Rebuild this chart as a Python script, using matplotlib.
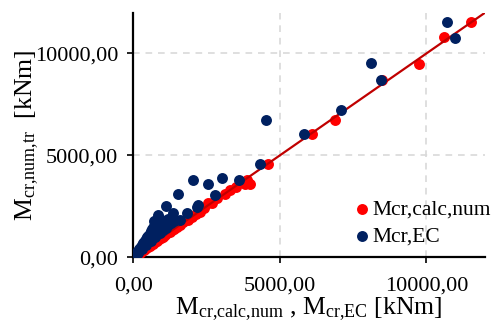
import matplotlib
matplotlib.use("Agg")
import matplotlib.pyplot as plt
from matplotlib.ticker import FuncFormatter, MultipleLocator

plt.rcParams['font.family'] = ['Liberation Serif', 'DejaVu Serif']
plt.rcParams['mathtext.fontset'] = 'custom'
plt.rcParams['mathtext.rm'] = 'Liberation Serif'
plt.rcParams['mathtext.it'] = 'Liberation Serif:italic'

# Mcr,calc,num  (x, y) in kNm
calc_x = [20, 50, 80, 110, 150, 190, 230, 270, 310, 350, 400, 450, 500, 560, 620,
          680, 740, 800, 870, 940, 1010, 1080, 1160, 1240, 1320, 1400, 1500, 1600,
          1705, 1850, 1991, 2150, 2274, 2420, 2557, 2700, 2843, 3126, 3300, 3500,
          3797, 3866, 3978, 4602, 6082, 6876, 8480, 9740, 10592, 11536]
calc_y = [20, 45, 85, 105, 150, 185, 235, 265, 320, 345, 410, 440, 510, 550, 630,
          670, 750, 790, 880, 930, 1020, 1070, 1170, 1230, 1330, 1390, 1510, 1590,
          1741, 1830, 1985, 2140, 2230, 2400, 2640, 2680, 2885, 3095, 3280, 3460,
          3618, 3814, 3619, 4597, 6029, 6748, 8700, 9487, 10787, 11521]

# Mcr,EC  (x, y) in kNm
ec_x = [20, 40, 60, 80, 100, 120, 140, 160, 180, 200, 220, 240, 260, 280, 300, 320,
        340, 360, 380, 400, 420, 440, 460, 480, 500, 530, 560, 590, 620, 650, 680,
        720, 760, 800, 150, 300, 450, 600, 750, 900, 1000, 1100, 1200, 1300, 1400,
        700, 900, 1000, 1200, 784, 842, 1105, 1364, 1524, 1592, 1841, 2045, 2161,
        2216, 2547, 2785, 3013, 3614, 4319, 4514, 5830, 7070, 8127, 8444, 10718, 10967]
ec_y = [40, 70, 110, 150, 190, 230, 270, 310, 350, 390, 430, 470, 510, 560, 600, 640,
        680, 720, 770, 810, 850, 900, 940, 990, 1030, 1100, 1160, 1230, 1300, 1370, 1440,
        1520, 1600, 1700, 220, 420, 620, 820, 1000, 1200, 1350, 1450, 1600, 1700, 1800,
        1800, 1900, 1700, 1900, 1824, 2068, 2509, 2152, 3095, 1824, 2152, 3814, 2445,
        2557, 3584, 3046, 3912, 3814, 4597, 6748, 6029, 7203, 9516, 8719, 11521, 10758]

trend_x = [0, 12100]
trend_y = [0, 12100]

fig = plt.figure(figsize=(4.96, 3.24), dpi=100)
ax = fig.add_axes([133.3 / 496, (324 - 257.3) / 324, (485 - 133.3) / 496, (257.3 - 12.7) / 324])

ax.scatter(calc_x, calc_y, s=62, color='#ff0000', linewidths=0, zorder=3, label='Mcr,calc,num')
ax.plot(trend_x, trend_y, color='#c00000', linewidth=1.6, zorder=4)
ax.scatter(ec_x, ec_y, s=62, color='#002060', linewidths=0, zorder=5, label='Mcr,EC')

ax.set_xlim(0, 12000)
ax.set_ylim(0, 12000)
ax.xaxis.set_major_locator(MultipleLocator(5000))
ax.yaxis.set_major_locator(MultipleLocator(5000))
fmt = FuncFormatter(lambda v, p: ('%.2f' % v).replace('.', ','))
ax.xaxis.set_major_formatter(fmt)
ax.yaxis.set_major_formatter(fmt)

ax.grid(True, color='#d9d9d9', linestyle=(0, (4, 3.5)), linewidth=1.2, zorder=0)
ax.set_axisbelow(True)
for s in ['top', 'right']:
    ax.spines[s].set_visible(False)
for s in ['left', 'bottom']:
    ax.spines[s].set_linewidth(1.6)
ax.tick_params(axis='both', direction='out', length=4, width=1.2, labelsize=16)
ax.tick_params(axis='x', pad=10)
ax.tick_params(axis='y', pad=7)

ax.set_xlabel(r'M$_{\mathrm{cr{,}calc{,}num}}$ , M$_{\mathrm{cr{,}EC}}$ [kNm]', fontsize=18.5, labelpad=-0.5)
ax.set_ylabel(r'M$_{\mathrm{cr{,}num{,}tr}}$  [kNm]', fontsize=18.5)
ax.yaxis.set_label_coords(-0.262, 0.5)

ax.legend(loc='center left', bbox_to_anchor=(357 / 496, (324 - 223) / 324),
          bbox_transform=fig.transFigure, frameon=False, fontsize=15.5,
          handlelength=0.5, handletextpad=0.2, labelspacing=0.3, borderpad=0,
          borderaxespad=0, markerscale=1.0)

fig.savefig('out.png', dpi=100)
